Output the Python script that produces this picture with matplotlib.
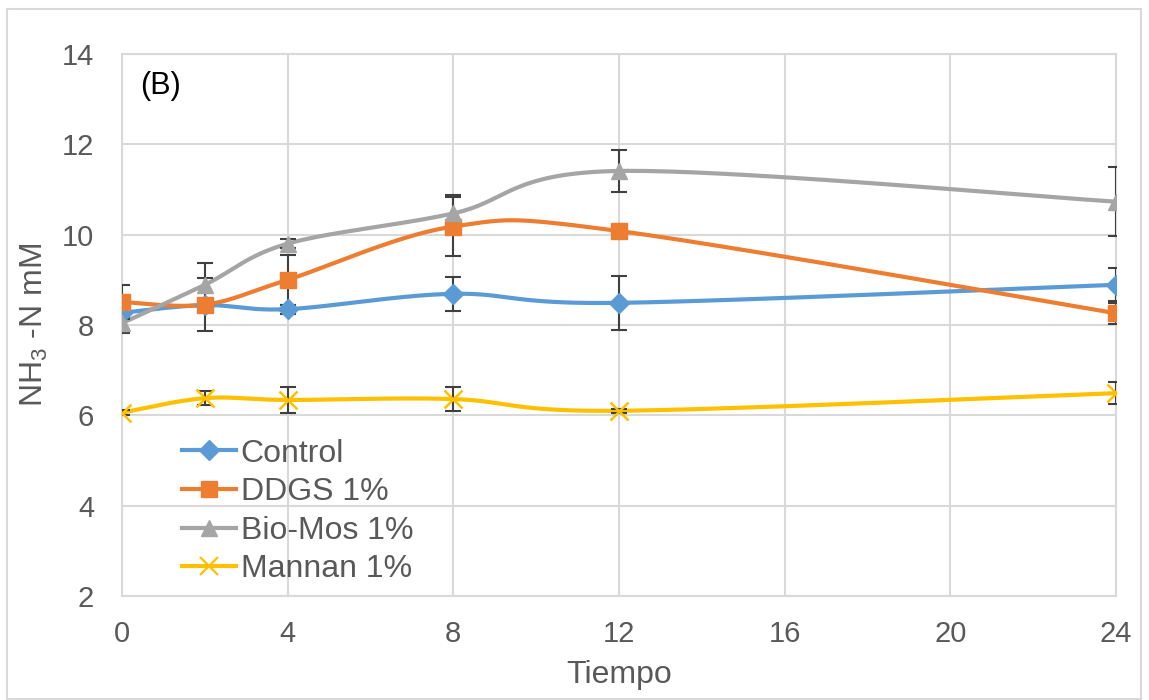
import numpy as np
import matplotlib
matplotlib.use("Agg")
import matplotlib.pyplot as plt
from matplotlib.lines import Line2D
from matplotlib.patches import Rectangle

plt.rcParams['font.family'] = ['Liberation Sans', 'DejaVu Sans']
plt.rcParams['mathtext.default'] = 'regular'

# tiempo (h) y NH3-N (mM) por tratamiento
tiempo = [0, 2, 4, 8, 12, 24]
control = [8.27, 8.44, 8.35, 8.69, 8.49, 8.89]
control_err = [0.10, 0.10, 0.10, 0.37, 0.60, 0.37]
ddgs = [8.51, 8.45, 9.00, 10.18, 10.08, 8.26]
ddgs_err = [0.38, 0.58, 0.55, 0.65, 0.10, 0.23]
biomos = [8.04, 8.89, 9.80, 10.47, 11.41, 10.73]
biomos_err = [0.22, 0.48, 0.10, 0.41, 0.47, 0.77]
mannan = [6.06, 6.38, 6.34, 6.36, 6.10, 6.49]
mannan_err = [0.05, 0.15, 0.28, 0.27, 0.05, 0.25]

series = [
    ('Control', control, control_err, '#5b9bd5', 'D', 10),
    ('DDGS 1%', ddgs, ddgs_err, '#ed7d31', 's', 12),
    ('Bio-Mos 1%', biomos, biomos_err, '#a5a5a5', '^', 12),
    ('Mannan 1%', mannan, mannan_err, '#ffc000', 'x', 13),
]


def smooth(x, y, n=40):
    # curva suavizada tipo Excel (Bezier con puntos de control cardinales)
    x = np.asarray(x, float)
    y = np.asarray(y, float)
    px = np.concatenate([[x[0]], x, [x[-1]]])
    py = np.concatenate([[y[0]], y, [y[-1]]])
    xs, ys = [], []
    t = np.linspace(0, 1, n)
    for i in range(1, len(px) - 2):
        p0 = np.array([px[i], py[i]])
        p3 = np.array([px[i + 1], py[i + 1]])
        c1 = p0 + (np.array([px[i + 1], py[i + 1]]) - np.array([px[i - 1], py[i - 1]])) / 6
        c2 = p3 - (np.array([px[i + 2], py[i + 2]]) - np.array([px[i], py[i]])) / 6
        b = ((1 - t) ** 3)[:, None] * p0 + (3 * (1 - t) ** 2 * t)[:, None] * c1 \
            + (3 * (1 - t) * t ** 2)[:, None] * c2 + (t ** 3)[:, None] * p3
        xs.append(b[:, 0])
        ys.append(b[:, 1])
    return np.concatenate(xs), np.concatenate(ys)


fig = plt.figure(figsize=(11.49, 7.0), dpi=100)
ax = fig.add_axes([0.1062, 0.1486, 0.8651, 0.7743])

grid_c = '#d9d9d9'
text_c = '#595959'

handles = []
for k, (name, vals, err, col, mk, ms) in enumerate(series):
    sx, sy = smooth(tiempo, vals)
    ax.plot(sx, sy, color=col, lw=3, zorder=3 + k, solid_capstyle='round')
    ax.errorbar(tiempo, vals, yerr=err, fmt='none', ecolor='#404040',
                elinewidth=1.5, capsize=6, capthick=1.5, zorder=7 + k)
    if mk == 'x':
        ax.plot(tiempo, vals, ls='none', marker=mk, ms=ms, mew=1.8,
                color=col, zorder=12 + k)
    else:
        ax.plot(tiempo, vals, ls='none', marker=mk, ms=ms, mec=col,
                mfc=col, color=col, zorder=12 + k)
    handles.append(Line2D([], [], color=col, lw=3, marker=mk,
                          ms=ms, mew=1.6 if mk == 'x' else 1,
                          mfc=col, mec=col))

ax.set_xlim(0, 24)
ax.set_ylim(2, 14)
ax.set_xticks(range(0, 25, 4))
ax.set_yticks(range(2, 15, 2))
ax.grid(True, color=grid_c, lw=1.5)
ax.set_axisbelow(True)
for s in ax.spines.values():
    s.set_color(grid_c)
    s.set_linewidth(1.5)
ax.tick_params(length=0, labelsize=21, labelcolor=text_c)
ax.tick_params(axis='x', pad=17)
ax.tick_params(axis='y', pad=20)

ax.set_xlabel('Tiempo', fontsize=23, color=text_c)
ax.xaxis.set_label_coords(0.5, -0.118)
ax.set_ylabel('NH$_3$ -N mM', fontsize=23, color=text_c)
ax.yaxis.set_label_coords(-0.072, 0.5)

ax.text(0.018, 0.94, '(B)', transform=ax.transAxes, fontsize=22,
        color='black', va='center', ha='left')

leg = ax.legend(handles, [s[0] for s in series], loc='upper left',
                bbox_to_anchor=(0.044, 0.32), frameon=False, fontsize=23,
                handlelength=1.7, handletextpad=0.15, labelspacing=0.27,
                borderpad=0)
for t in leg.get_texts():
    t.set_color(text_c)

fig.patches.append(Rectangle((7 / 1149, 0.002), 1134 / 1149, 1 - 9 / 700 - 0.002,
                             transform=fig.transFigure, fill=False,
                             edgecolor=grid_c, lw=1.5))

fig.savefig('out.png', dpi=100)
